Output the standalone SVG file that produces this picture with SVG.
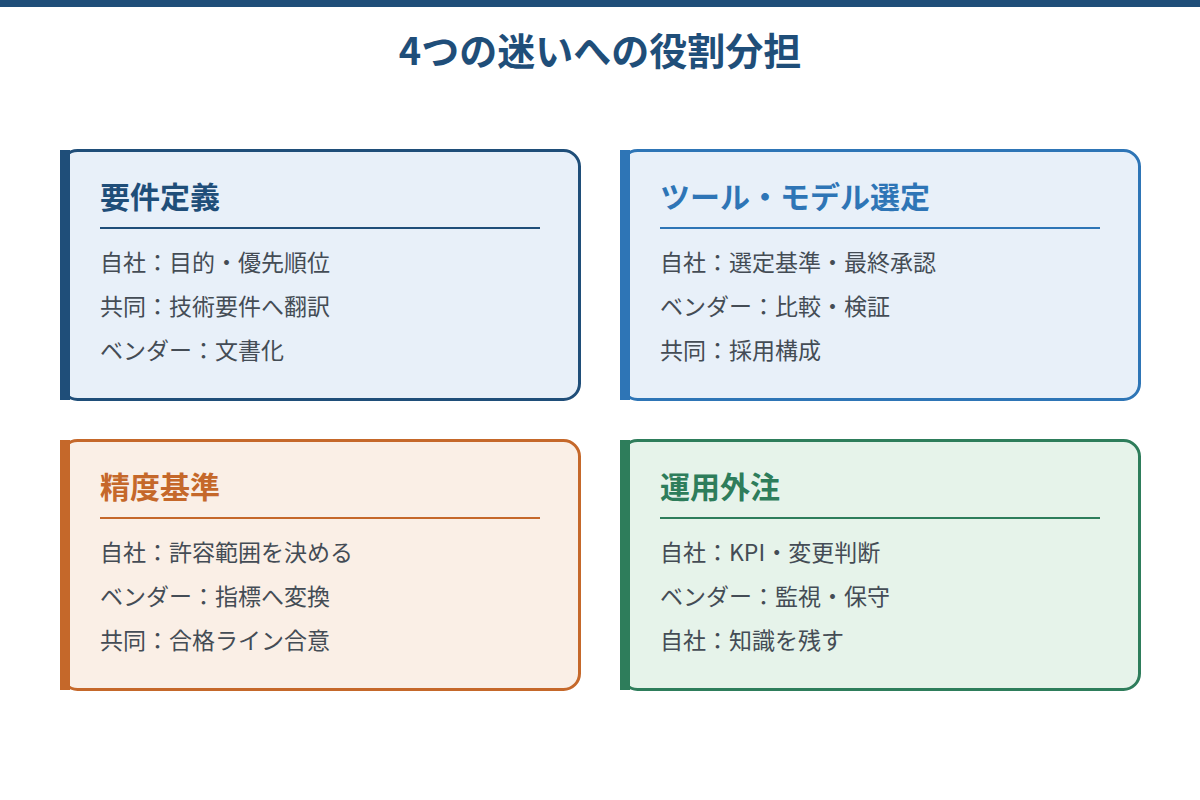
<svg xmlns="http://www.w3.org/2000/svg" width="1200" height="800" viewBox="0 0 1200 800">
<style>
text{font-family:"Noto Sans CJK JP","Noto Sans",sans-serif}
.title{font-size:38px;font-weight:700;fill:#1f4e79}
.h{font-size:30px;font-weight:700}
.b{font-size:23px;fill:#444c55}
.card{stroke-width:3}
</style>
<rect x="0" y="0" width="1200" height="7" fill="#1f4e79"/>
<text class="title" x="600" y="65" text-anchor="middle">4つの迷いへの役割分担</text>
<g id="n1">
<rect class="card" x="61.5" y="150.5" width="518" height="249" rx="16" fill="#e8f0f9" stroke="#1f4e79"/>
<rect x="60" y="150" width="10" height="250" fill="#1f4e79"/>
<text class="h" x="100" y="208" fill="#1f4e79">要件定義</text>
<line x1="100" y1="228" x2="540" y2="228" stroke="#1f4e79" stroke-width="2"/>
<text class="b" x="100" y="271">自社：目的・優先順位</text>
<text class="b" x="100" y="315">共同：技術要件へ翻訳</text>
<text class="b" x="100" y="359">ベンダー：文書化</text>
</g>
<g id="n2">
<rect class="card" x="621.5" y="150.5" width="518" height="249" rx="16" fill="#e8f0f9" stroke="#2e75b6"/>
<rect x="620" y="150" width="10" height="250" fill="#2e75b6"/>
<text class="h" x="660" y="208" fill="#2e75b6">ツール・モデル選定</text>
<line x1="660" y1="228" x2="1100" y2="228" stroke="#2e75b6" stroke-width="2"/>
<text class="b" x="660" y="271">自社：選定基準・最終承認</text>
<text class="b" x="660" y="315">ベンダー：比較・検証</text>
<text class="b" x="660" y="359">共同：採用構成</text>
</g>
<g id="n3">
<rect class="card" x="61.5" y="440.5" width="518" height="249" rx="16" fill="#faefe6" stroke="#c5682a"/>
<rect x="60" y="440" width="10" height="250" fill="#c5682a"/>
<text class="h" x="100" y="498" fill="#c5682a">精度基準</text>
<line x1="100" y1="518" x2="540" y2="518" stroke="#c5682a" stroke-width="2"/>
<text class="b" x="100" y="561">自社：許容範囲を決める</text>
<text class="b" x="100" y="605">ベンダー：指標へ変換</text>
<text class="b" x="100" y="649">共同：合格ライン合意</text>
</g>
<g id="n4">
<rect class="card" x="621.5" y="440.5" width="518" height="249" rx="16" fill="#e6f3ea" stroke="#2e7d5b"/>
<rect x="620" y="440" width="10" height="250" fill="#2e7d5b"/>
<text class="h" x="660" y="498" fill="#2e7d5b">運用外注</text>
<line x1="660" y1="518" x2="1100" y2="518" stroke="#2e7d5b" stroke-width="2"/>
<text class="b" x="660" y="561">自社：KPI・変更判断</text>
<text class="b" x="660" y="605">ベンダー：監視・保守</text>
<text class="b" x="660" y="649">自社：知識を残す</text>
</g>
<g id="connectors"></g>
</svg>
